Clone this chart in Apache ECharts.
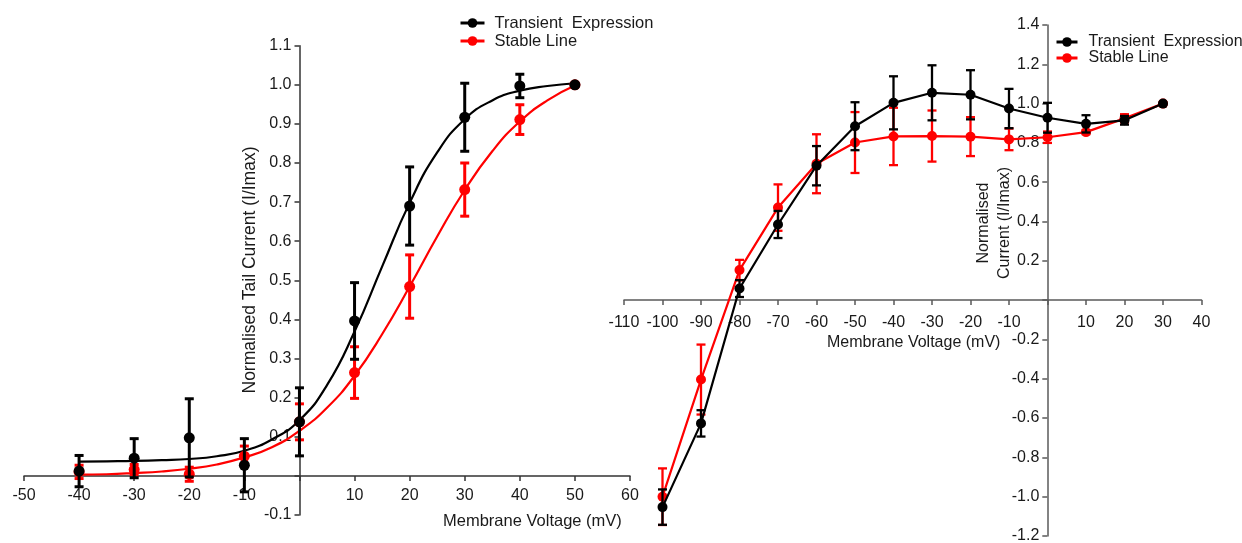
<!DOCTYPE html>
<html>
<head>
<meta charset="utf-8">
<script src="https://cdn.jsdelivr.net/npm/echarts@6/dist/echarts.min.js"></script>
<style>
html, body { margin: 0; padding: 0; background: #fff; }
#chart { width: 1242px; height: 543px; }
</style>
</head>
<body>
<div id="chart"></div>
<script>
// ---- Tail current activation (left panel) ----
const tailVoltages = [-40, -30, -20, -10, 0, 10, 20, 30, 40, 50];
const tailTransientMean = [0.012, 0.045, 0.097, 0.027, 0.138, 0.396, 0.690, 0.917, 0.997, 1.000];
const tailTransientSem  = [0.040, 0.050, 0.100, 0.068, 0.087, 0.098, 0.100, 0.087, 0.030, 0];
const tailStableMean    = [0.010, 0.016, 0.004, 0.050, 0.138, 0.264, 0.484, 0.732, 0.911, 1.000];
const tailStableSem     = [0.017, 0.013, 0.018, 0.026, 0.046, 0.066, 0.081, 0.068, 0.038, 0];

// Boltzmann fit curves, sampled every 5 mV
const fitVoltages   = [-40, -35, -30, -25, -20, -15, -10, -5, 0, 5, 10, 15, 20, 25, 30, 35, 40, 45, 50];
const fitTransient  = [0.036, 0.037, 0.038, 0.040, 0.043, 0.050, 0.064, 0.093, 0.142, 0.232, 0.369, 0.535, 0.698, 0.827, 0.912, 0.960, 0.985, 0.997, 1.004];
const fitStable     = [0.003, 0.004, 0.007, 0.011, 0.018, 0.029, 0.047, 0.073, 0.115, 0.174, 0.256, 0.362, 0.484, 0.612, 0.731, 0.830, 0.906, 0.960, 0.998];

// ---- Current-voltage relation (right panel) ----
const ivVoltages       = [-100, -90, -80, -70, -60, -50, -40, -30, -20, -10, 0, 10, 20, 30];
const ivTransientMean  = [-1.053, -0.627, 0.059, 0.385, 0.684, 0.885, 1.004, 1.055, 1.045, 0.975, 0.928, 0.897, 0.915, 1.000];
const ivTransientSem   = [0.090, 0.067, 0.043, 0.069, 0.100, 0.122, 0.135, 0.140, 0.125, 0.100, 0.076, 0.044, 0.022, 0];
const ivStableMean     = [-1.000, -0.404, 0.153, 0.471, 0.694, 0.802, 0.833, 0.835, 0.832, 0.818, 0.829, 0.855, 0.925, 1.000];
const ivStableSem      = [0.144, 0.178, 0.052, 0.118, 0.150, 0.155, 0.146, 0.130, 0.099, 0.055, 0.029, 0.010, 0.021, 0];

const seriesNames = ['Transient  Expression', 'Stable Line'];
const BLACK = '#000000';
const RED = '#ff0000';
const FONT = 'Liberation Sans, Arial, Helvetica, sans-serif';
const TEXT_COLOR = '#1a1a1a';

// panel frames (pixels) and where the zero lines cross inside them
const LEFT_GRID = { left: 24, top: 45.7, width: 606, height: 469.2 };
const RIGHT_GRID = { left: 624, top: 25, width: 577.5, height: 511 };
const LEFT_Y_AXIS_X = 299.5, LEFT_X_AXIS_Y = 476;
const RIGHT_Y_AXIS_X = 1047.3, RIGHT_X_AXIS_Y = 300;

const pairs = (xs, ys) => xs.map((x, i) => [x, ys[i]]);
const triples = (xs, ys, es) => xs.map((x, i) => [x, ys[i], es[i]]);

// vertical error bar with caps
function errorBarSeries(name, xs, ys, es, color, gridIdx, z, width) {
  return {
    type: 'custom',
    name: name + ' SEM',
    xAxisIndex: gridIdx,
    yAxisIndex: gridIdx,
    z: z,
    silent: true,
    clip: false,
    data: triples(xs, ys, es),
    renderItem: function (params, api) {
      const x = api.value(0), y = api.value(1), e = api.value(2);
      if (!e) return null;
      const top = api.coord([x, y + e]);
      const bot = api.coord([x, y - e]);
      const half = 4.5;
      const style = { stroke: color, lineWidth: width };
      return {
        type: 'group',
        children: [
          { type: 'line', shape: { x1: top[0], y1: top[1], x2: bot[0], y2: bot[1] }, style: style },
          { type: 'line', shape: { x1: top[0] - half, y1: top[1], x2: top[0] + half, y2: top[1] }, style: style },
          { type: 'line', shape: { x1: bot[0] - half, y1: bot[1], x2: bot[0] + half, y2: bot[1] }, style: style }
        ]
      };
    }
  };
}

function fmt1(v) {
  return Math.abs(v) < 1e-9 ? '' : v.toFixed(1);
}
function fmtInt(v) {
  return Math.abs(v) < 1e-9 ? '' : String(Math.round(v));
}

function axis(extra, lineColor, labelMargin, formatter) {
  return Object.assign({
    type: 'value',
    splitLine: { show: false },
    axisLine: { onZero: false, lineStyle: { color: lineColor, width: 1.5 } },
    axisTick: { show: true, length: 5, lineStyle: { color: lineColor, width: 1.5 } },
    axisLabel: { color: TEXT_COLOR, fontSize: 16, fontFamily: FONT, margin: labelMargin, formatter: formatter,
                 showMinLabel: true, showMaxLabel: true }
  }, extra);
}

const option = {
  backgroundColor: '#ffffff',
  animation: false,
  textStyle: { fontFamily: FONT },
  grid: [
    Object.assign({ containLabel: false, outerBoundsMode: 'none' }, LEFT_GRID),
    Object.assign({ containLabel: false, outerBoundsMode: 'none' }, RIGHT_GRID)
  ],
  xAxis: [
    axis({ gridIndex: 0, min: -50, max: 60, interval: 10, position: 'bottom',
           offset: -(LEFT_GRID.top + LEFT_GRID.height - LEFT_X_AXIS_Y) }, '#333333', 12, fmtInt),
    axis({ gridIndex: 1, min: -110, max: 40, interval: 10, position: 'bottom',
           offset: -(RIGHT_GRID.top + RIGHT_GRID.height - RIGHT_X_AXIS_Y) }, '#5a5a5a', 15, fmtInt)
  ],
  yAxis: [
    axis({ gridIndex: 0, min: -0.1, max: 1.1, interval: 0.1, position: 'left',
           offset: -(LEFT_Y_AXIS_X - LEFT_GRID.left) }, '#333333', 8, fmt1),
    axis({ gridIndex: 1, min: -1.2, max: 1.4, interval: 0.2, position: 'left',
           offset: -(RIGHT_Y_AXIS_X - RIGHT_GRID.left) }, '#5a5a5a', 8, fmt1)
  ],
  legend: [
    {
      data: seriesNames, orient: 'vertical', left: 459, top: 14, padding: 0,
      itemGap: 0, itemWidth: 24, itemHeight: 12,
      textStyle: { fontSize: 16.5, fontFamily: FONT, color: TEXT_COLOR, lineHeight: 18, padding: [0, 0, 0, 5] },
      lineStyle: { width: 3 }
    },
    {
      data: seriesNames, orient: 'vertical', left: 1055, top: 34, padding: 0,
      itemGap: 0, itemWidth: 21, itemHeight: 12,
      textStyle: { fontSize: 16, fontFamily: FONT, color: TEXT_COLOR, lineHeight: 16, padding: [0, 0, 0, 6] },
      lineStyle: { width: 3 }
    }
  ],
  graphic: [
    {
      type: 'text', left: 443, top: 513,
      style: { text: 'Membrane Voltage (mV)', font: '16.5px ' + FONT, fill: TEXT_COLOR }
    },
    {
      type: 'text', x: 250, y: 270, rotation: Math.PI / 2,
      style: { text: 'Normalised Tail Current (I/Imax)', font: '17.5px ' + FONT, fill: TEXT_COLOR, align: 'center', verticalAlign: 'middle' }
    },
    {
      type: 'text', left: 827, top: 335,
      style: { text: 'Membrane Voltage (mV)', font: '16px ' + FONT, fill: TEXT_COLOR }
    },
    {
      type: 'text', x: 994, y: 223, rotation: Math.PI / 2,
      style: { text: 'Normalised\nCurrent (I/Imax)', font: '16px ' + FONT, fill: TEXT_COLOR, align: 'center', verticalAlign: 'middle', lineHeight: 21 }
    }
  ],
  series: [
    // left panel: fits
    {
      type: 'line', name: seriesNames[1], xAxisIndex: 0, yAxisIndex: 0, z: 3,
      data: pairs(fitVoltages, fitStable), smooth: 0.5,
      symbol: 'circle', showSymbol: false, color: RED,
      lineStyle: { color: RED, width: 2.2 }, itemStyle: { color: RED }
    },
    {
      type: 'line', name: seriesNames[0], xAxisIndex: 0, yAxisIndex: 0, z: 4,
      data: pairs(fitVoltages, fitTransient), smooth: 0.5,
      symbol: 'circle', showSymbol: false, color: BLACK,
      lineStyle: { color: BLACK, width: 2.2 }, itemStyle: { color: BLACK }
    },
    // left panel: means and SEM
    errorBarSeries('stable', tailVoltages, tailStableMean, tailStableSem, RED, 0, 5, 3),
    {
      type: 'scatter', name: 'stable points', xAxisIndex: 0, yAxisIndex: 0, z: 6,
      data: pairs(tailVoltages, tailStableMean), symbol: 'circle', symbolSize: 11,
      itemStyle: { color: RED, opacity: 1 }
    },
    errorBarSeries('transient', tailVoltages, tailTransientMean, tailTransientSem, BLACK, 0, 7, 3),
    {
      type: 'scatter', name: 'transient points', xAxisIndex: 0, yAxisIndex: 0, z: 8,
      data: pairs(tailVoltages, tailTransientMean), symbol: 'circle', symbolSize: 11,
      itemStyle: { color: BLACK, opacity: 1 }
    },
    // right panel: I-V curves
    errorBarSeries('iv stable', ivVoltages, ivStableMean, ivStableSem, RED, 1, 3, 2.3),
    {
      type: 'line', name: seriesNames[1], xAxisIndex: 1, yAxisIndex: 1, z: 4,
      data: pairs(ivVoltages, ivStableMean), symbol: 'circle', symbolSize: 10,
      showSymbol: true, color: RED,
      lineStyle: { color: RED, width: 2.2 }, itemStyle: { color: RED }
    },
    errorBarSeries('iv transient', ivVoltages, ivTransientMean, ivTransientSem, BLACK, 1, 5, 2.3),
    {
      type: 'line', name: seriesNames[0], xAxisIndex: 1, yAxisIndex: 1, z: 6,
      data: pairs(ivVoltages, ivTransientMean), symbol: 'circle', symbolSize: 10,
      showSymbol: true, color: BLACK,
      lineStyle: { color: BLACK, width: 2.2 }, itemStyle: { color: BLACK }
    }
  ]
};

const chart = echarts.init(document.getElementById('chart'), null, { renderer: 'canvas' });
chart.setOption(option);
</script>
</body>
</html>
